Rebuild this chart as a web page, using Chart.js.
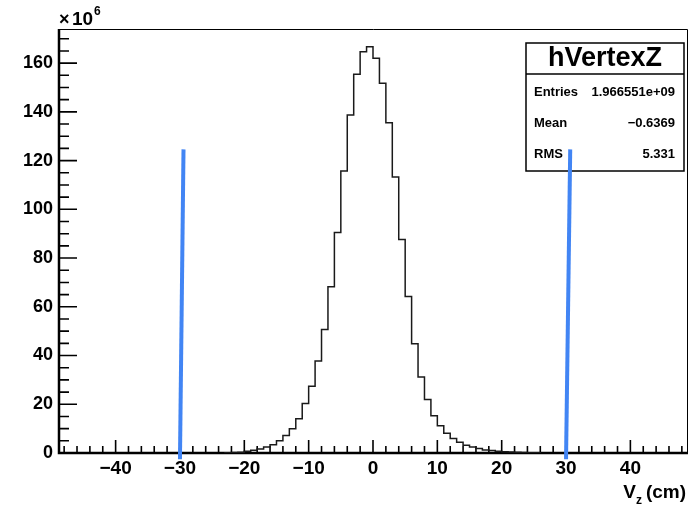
<!DOCTYPE html>
<html>
<head>
<meta charset="utf-8">
<script src="https://cdn.jsdelivr.net/npm/chart.js@4/dist/chart.umd.min.js"></script>
<style>
  html, body { margin: 0; padding: 0; background: #fff; }
  #wrap { width: 692px; height: 506px; }
</style>
</head>
<body>
<div id="wrap"><canvas id="canvas" width="692" height="506"></canvas></div>
<script>
// hVertexZ, entries per 1 cm bin in units of 10^6
const binStart = -23;
const binWidth = 1;
const counts = [
    0.1, 0.2, 0.35, 0.7, 1.1, 1.6, 2.5, 3.4, 5.0, 7.2,          // -23 .. -14
    10.0, 14.1, 20.3, 27.4, 37.8, 50.7, 68.2, 90.5, 115.7, 138.7, // -13 .. -4
    155.4, 164.7, 166.7, 162.0, 151.7, 135.5, 113.3, 87.6, 64.2, 44.8, // -3 .. 6
    31.2, 22.0, 15.3, 11.2, 8.1, 6.0, 4.4, 3.2, 2.5, 1.8,       // 7 .. 16
    1.2, 1.0, 0.7, 0.55, 0.4, 0.3, 0.2, 0.15, 0.1               // 17 .. 25
];

// the two hand drawn blue cut lines (top, bottom)
const cutLeftX = [-29.45, -30.0];
const cutRightX = [30.65, 30.0];
const cutY = [124.6, -2.6];

const xTicks = [-40, -30, -20, -10, 0, 10, 20, 30, 40];
const yTicks = [0, 20, 40, 60, 80, 100, 120, 140, 160];
const xMinorStep = 2;
const yMinorStep = 5;

const statsTitle = 'hVertexZ';
const statsNames = ['Entries', 'Mean', 'RMS'];
const statsValues = ['1.966551e+09', '\u22120.6369', '5.331'];

const FONT = '"Liberation Sans", Arial, Helvetica, sans-serif';

function fmt(v) {
    return v < 0 ? '\u2212' + Math.abs(v) : String(v);
}

function histPoints() {
    var pts = [{x: binStart, y: 0}];
    counts.forEach((c, i) => pts.push({x: binStart + i * binWidth, y: c}));
    pts.push({x: binStart + counts.length * binWidth, y: 0});
    return pts;
}

const rootFrame = {
    id: 'rootFrame',
    beforeDatasetsDraw(chart) {
        const ctx = chart.ctx;
        const a = chart.chartArea;
        const xs = chart.scales.x, ys = chart.scales.y;
        ctx.save();

        // stats box
        ctx.fillStyle = '#fff';
        ctx.fillRect(526, 43, 158, 128);
        ctx.strokeStyle = '#000';
        ctx.lineWidth = 1.5;
        ctx.strokeRect(526, 43, 158, 128);
        ctx.beginPath();
        ctx.moveTo(526, 74);
        ctx.lineTo(684, 74);
        ctx.stroke();
        ctx.fillStyle = '#000';
        ctx.textAlign = 'center';
        ctx.textBaseline = 'middle';
        ctx.font = 'bold 27px ' + FONT;
        ctx.fillText(statsTitle, 605, 59);
        ctx.font = 'bold 13px ' + FONT;
        const rowY = [92, 123, 154];
        statsNames.forEach((n, i) => {
            ctx.textAlign = 'left';
            ctx.fillText(n, 534, rowY[i]);
            ctx.textAlign = 'right';
            ctx.fillText(statsValues[i], 675, rowY[i]);
        });

        // frame
        ctx.strokeStyle = '#000';
        ctx.lineWidth = 1;
        ctx.beginPath();
        ctx.moveTo(a.left, a.top + 0.5);
        ctx.lineTo(a.right + 0.5, a.top + 0.5);
        ctx.lineTo(a.right + 0.5, a.bottom);
        ctx.stroke();
        ctx.lineWidth = 2.5;
        ctx.beginPath();
        ctx.moveTo(a.left, a.top);
        ctx.lineTo(a.left, a.bottom);
        ctx.lineTo(a.right + 1, a.bottom);
        ctx.stroke();

        // ticks pointing into the frame
        ctx.lineWidth = 1.6;
        ctx.beginPath();
        for (var v = -48; v <= 48; v += xMinorStep) {
            var px = xs.getPixelForValue(v);
            var len = (v % 10 === 0) ? 13 : 7;
            ctx.moveTo(px, a.bottom);
            ctx.lineTo(px, a.bottom - len);
        }
        for (var w = 0; w <= 170; w += yMinorStep) {
            var py = ys.getPixelForValue(w);
            var l2 = (w % 20 === 0) ? 18 : 10;
            ctx.moveTo(a.left, py);
            ctx.lineTo(a.left + l2, py);
        }
        ctx.stroke();
        ctx.restore();
    },
    afterDraw(chart) {
        const ctx = chart.ctx;
        ctx.save();
        ctx.fillStyle = '#000';
        ctx.textBaseline = 'alphabetic';
        ctx.textAlign = 'left';
        // x10^6 multiplier
        ctx.font = 'bold 18px ' + FONT;
        ctx.fillText('\u00d7', 59, 25);
        ctx.font = 'bold 19px ' + FONT;
        ctx.fillText('10', 72, 25);
        ctx.font = 'bold 12px ' + FONT;
        ctx.fillText('6', 94, 15);

        // axis title V_z (cm)
        ctx.textAlign = 'right';
        ctx.font = 'bold 19px ' + FONT;
        ctx.fillText('(cm)', 686, 498);
        var w1 = ctx.measureText('(cm)').width;
        ctx.font = 'bold 12px ' + FONT;
        ctx.fillText('z', 686 - w1 - 4, 504);
        var w2 = ctx.measureText('z').width;
        ctx.font = 'bold 19px ' + FONT;
        ctx.fillText('V', 686 - w1 - 4 - w2, 498);
        ctx.restore();
    }
};

var ctx = document.getElementById('canvas').getContext('2d');
var vertexChart = new Chart(ctx, {
    type: 'line',
    data: {
        datasets: [{
            label: 'hVertexZ',
            data: histPoints(),
            stepped: true,
            borderColor: '#1a1a1a',
            borderWidth: 1.5,
            pointRadius: 0,
            fill: false
        }, {
            label: 'cut left',
            data: cutLeftX.map((x, i) => ({x: x, y: cutY[i]})),
            borderColor: '#4285f4',
            borderWidth: 4,
            pointRadius: 0,
            clip: false
        }, {
            label: 'cut right',
            data: cutRightX.map((x, i) => ({x: x, y: cutY[i]})),
            borderColor: '#4285f4',
            borderWidth: 4,
            pointRadius: 0,
            clip: false
        }]
    },
    options: {
        responsive: false,
        animation: false,
        layout: { padding: { top: 29, right: 5, left: 0, bottom: 0 } },
        plugins: {
            legend: { display: false },
            tooltip: { enabled: false }
        },
        scales: {
            x: {
                type: 'linear',
                min: -48.8,
                max: 48.8,
                grid: { display: false, drawTicks: false },
                border: { display: false },
                afterBuildTicks: s => { s.ticks = xTicks.map(v => ({value: v})); },
                afterFit: s => { s.height = 53; },
                ticks: {
                    padding: 4,
                    color: '#000',
                    maxRotation: 0,
                    autoSkip: false,
                    font: { family: FONT, size: 19, weight: 'bold' },
                    callback: v => fmt(v)
                }
            },
            y: {
                type: 'linear',
                min: 0,
                max: 174,
                grid: { display: false, drawTicks: false },
                border: { display: false },
                afterBuildTicks: s => { s.ticks = yTicks.map(v => ({value: v})); },
                afterFit: s => { s.width = 59; },
                ticks: {
                    padding: 6,
                    color: '#000',
                    autoSkip: false,
                    font: { family: FONT, size: 18, weight: 'bold' },
                    callback: v => fmt(v)
                }
            }
        }
    },
    plugins: [rootFrame]
});
</script>
</body>
</html>
